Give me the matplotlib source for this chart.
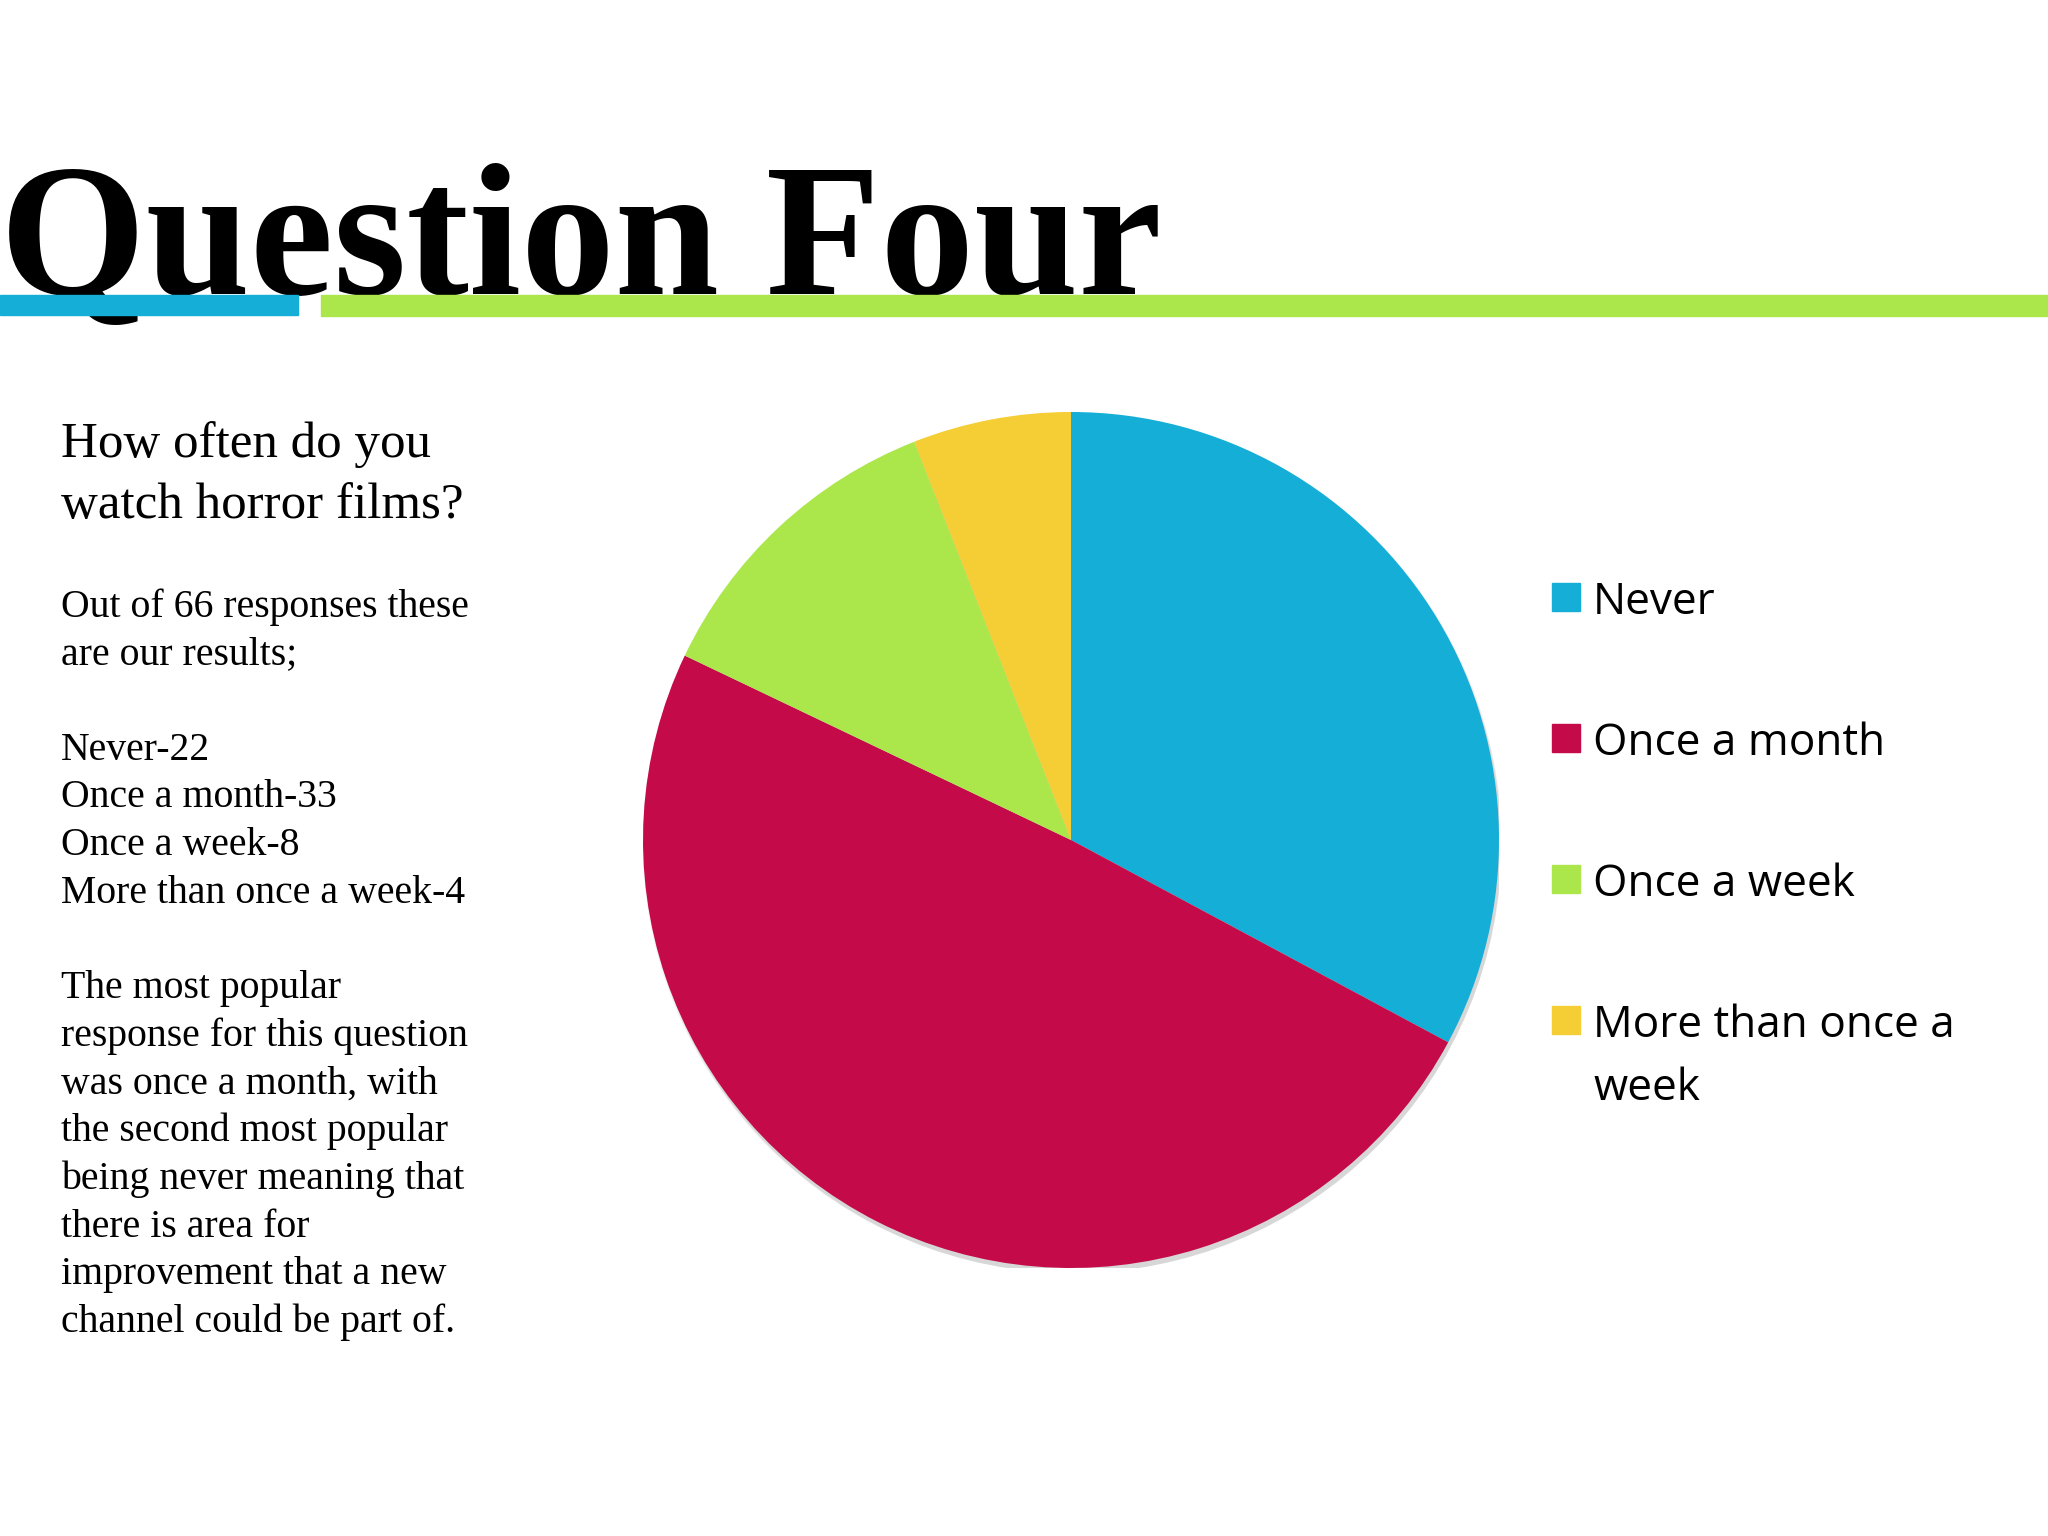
import textwrap
import matplotlib
matplotlib.use("Agg")
import matplotlib.pyplot as plt
from matplotlib.patches import Rectangle, Circle

# survey results
categories = ["Never", "Once a month", "Once a week", "More than once a week"]
counts = [22, 33, 8, 4]
colors = ["#14AED6", "#C40A48", "#ABE64A", "#F5CD34"]

title = "Question Four"
question = ["How often do you", "watch horror films?"]
body = [
    "Out of 66 responses these",
    "are our results;",
    "",
    "Never-22",
    "Once a month-33",
    "Once a week-8",
    "More than once a week-4",
    "",
    "The most popular",
    "response for this question",
    "was once a month, with",
    "the second most popular",
    "being never meaning that",
    "there is area for",
    "improvement that a new",
    "channel could be part of.",
]

W, H = 2048, 1536
fig = plt.figure(figsize=(W / 100, H / 100), dpi=100)
fig.patch.set_facecolor("white")

# full-slide axes in pixel units, y pointing down
bg = fig.add_axes([0, 0, 1, 1])
bg.set_xlim(0, W)
bg.set_ylim(H, 0)
bg.axis("off")

serif = "Liberation Serif"

# title and the two rules under it
bg.text(0, 294, title, fontsize=135, fontweight="bold", family=serif,
        va="baseline", ha="left", zorder=1)
bg.add_patch(Rectangle((0, 295), 298, 20, color="#14AED6", zorder=2))
bg.add_patch(Rectangle((321, 295), W - 321, 21, color="#ABE64A", zorder=2))

# left text column
for i, line in enumerate(question):
    bg.text(61, 457 + i * 61, line, fontsize=36.7, family=serif, va="baseline")
for i, line in enumerate(body):
    bg.text(61, 616.5 + i * 47.7, line, fontsize=28.6, family=serif, va="baseline")

# legend
for i, (lab, col) in enumerate(zip(categories, colors)):
    yc = 597 + i * 141
    bg.add_patch(Rectangle((1552, yc - 14), 28, 28, color=col))
    for j, part in enumerate(textwrap.wrap(lab, 16)):
        bg.text(1593, yc + 17 + j * 63, part, fontsize=31.8, family="Open Sans",
                va="baseline", ha="left")

# pie
cx, cy, r = 1071, 840, 428
pax = fig.add_axes([(cx - r) / W, (H - cy - r) / H, 2 * r / W, 2 * r / H])
for k, a in enumerate([0.04, 0.05, 0.07]):
    pax.add_patch(Circle((0.003 + 0.001 * k, -0.008 - 0.002 * k), 1.0 + 0.002 * (2 - k),
                         color="#000000", alpha=a, lw=0, zorder=0))
pax.pie(counts, colors=colors, startangle=90, counterclock=False,
        wedgeprops=dict(linewidth=0, zorder=1))
pax.set_xlim(-1, 1)
pax.set_ylim(-1, 1)
pax.set_aspect("equal")
pax.axis("off")

fig.savefig("out.png", dpi=100, facecolor="white")
